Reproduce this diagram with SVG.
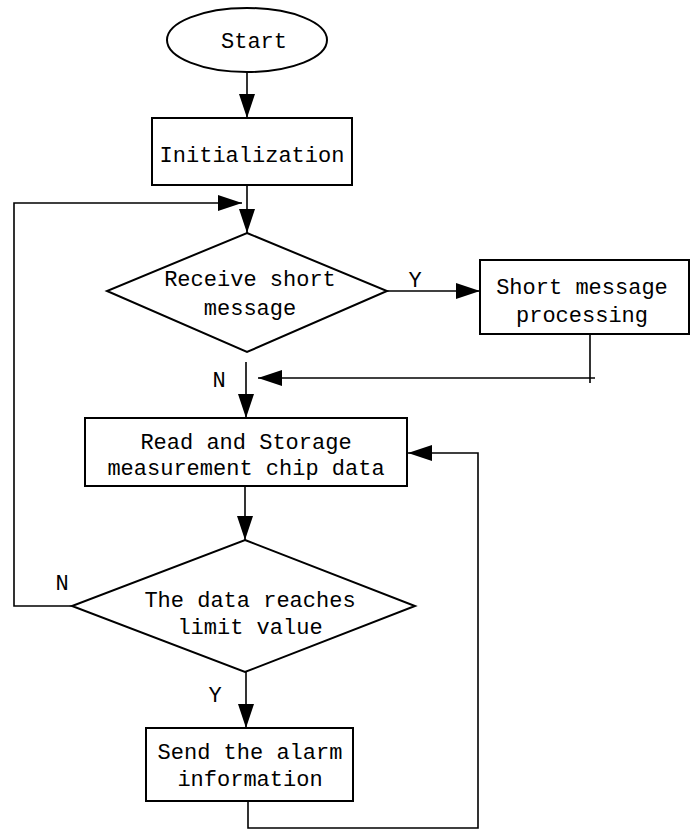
<svg xmlns="http://www.w3.org/2000/svg" width="691" height="830" viewBox="0 0 691 830">
<style>
.s{fill:#fff;stroke:#000;stroke-width:2}
.c{fill:none;stroke:#000;stroke-width:1.6}
text{font-family:"Liberation Mono","DejaVu Sans Mono",monospace;font-size:22px;fill:#000;text-anchor:middle}
</style>
<defs>
<marker id="a" viewBox="0 0 24 16" refX="24" refY="8" markerWidth="24" markerHeight="16" markerUnits="userSpaceOnUse" orient="auto">
<path d="M0,0 L24,8 L0,16 Z" fill="#000"/>
</marker>
</defs>
<g id="connectors">
<line class="c" x1="247" y1="72" x2="247" y2="118" marker-end="url(#a)"/>
<line class="c" x1="247" y1="185" x2="247" y2="233" marker-end="url(#a)"/>
<line class="c" x1="387" y1="291" x2="480" y2="291" marker-end="url(#a)"/>
<polyline class="c" points="590,334 590,383"/>
<line class="c" x1="595" y1="378" x2="258" y2="378" marker-end="url(#a)"/>
<line class="c" x1="246" y1="362" x2="246" y2="418" marker-end="url(#a)"/>
<line class="c" x1="245" y1="486" x2="245" y2="540" marker-end="url(#a)"/>
<polyline class="c" points="72,606 14,606 14,203 242,203" marker-end="url(#a)"/>
<line class="c" x1="246" y1="672" x2="246" y2="728" marker-end="url(#a)"/>
<polyline class="c" points="248,801 248,828 478,828 478,453 408,453" marker-end="url(#a)"/>
<text x="415" y="287">Y</text>
<text x="219" y="387">N</text>
<text x="62" y="590">N</text>
<text x="215" y="702">Y</text>
</g>
<g id="start">
<ellipse class="s" cx="247" cy="40" rx="80" ry="32"/>
<text x="254" y="48">Start</text>
</g>
<g id="init">
<rect class="s" x="152" y="118" width="200" height="67"/>
<text x="252" y="162">Initialization</text>
</g>
<g id="receive">
<polygon class="s" points="247,233 387,291 247,352 107,291"/>
<text x="250" y="286">Receive short</text>
<text x="250" y="315">message</text>
</g>
<g id="smp">
<rect class="s" x="480" y="260" width="209" height="74"/>
<text x="582" y="294">Short message</text>
<text x="582" y="322">processing</text>
</g>
<g id="read">
<rect class="s" x="85" y="418" width="322" height="68"/>
<text x="246" y="449">Read and Storage</text>
<text x="246" y="475">measurement chip data</text>
</g>
<g id="limit">
<polygon class="s" points="245,540 415,606 245,672 72,606"/>
<text x="250" y="607">The data reaches</text>
<text x="250" y="634">limit value</text>
</g>
<g id="alarm">
<rect class="s" x="146" y="728" width="207" height="73"/>
<text x="250" y="759">Send the alarm</text>
<text x="250" y="786">information</text>
</g>
</svg>
